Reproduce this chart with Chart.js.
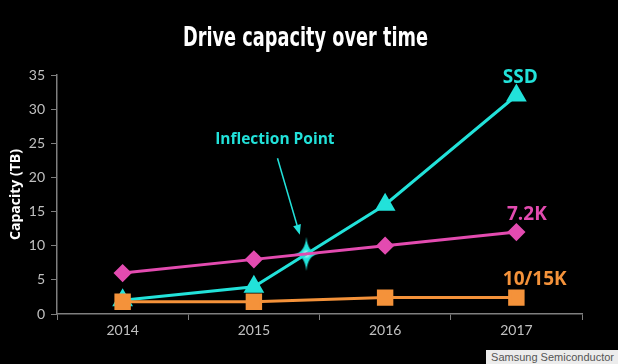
<!DOCTYPE html>
<html lang="en">
<head>
    <meta charset="UTF-8">
    <title>Drive capacity over time</title>
    <script src="https://cdn.jsdelivr.net/npm/chart.js"></script>
    <style>
        html, body { margin: 0; padding: 0; background: #000; }
        #wrap { position: relative; width: 618px; height: 364px; }
        #source {
            position: absolute; right: 0; bottom: 0;
            background: #ececec; color: #555; padding: 1px 4px 1px 5px;
            font: 11px "Liberation Sans", Arial, sans-serif;
        }
    </style>
</head>
<body>
<div id="wrap">
    <canvas id="capChart" width="618" height="364"></canvas>
    <div id="source">Samsung Semiconductor</div>
</div>
<script>
    var title = 'Drive capacity over time';
    var years = ['2014', '2015', '2016', '2017'];
    var ssd = [2, 4, 16, 32];
    var hdd72 = [6, 8, 10, 12];
    var hdd1015 = [1.8, 1.8, 2.4, 2.4];

    // where the SSD line crosses the 7.2K line (between 2015 and 2016)
    var inflection = [{ x: 1.4, y: 8.8 }];

    var cyan = '#22e2da';
    var magenta = '#e34bb0';
    var orange = '#f4923a';

    // text notes, placed in data units (x = category index)
    var notes = [
        { text: 'SSD', x: 3.03, y: 34.6, color: cyan, size: 19 },
        { text: '7.2K', x: 3.08, y: 14.5, color: magenta, size: 19 },
        { text: '10/15K', x: 3.14, y: 5.0, color: orange, size: 19 },
        { text: 'Inflection Point', x: 1.16, y: 25.6, color: cyan, size: 15.5 }
    ];
    var arrow = { from: [1.18, 22.8], to: [1.35, 11.6] };

    function sparkle() {
        var c = document.createElement('canvas');
        c.width = 28; c.height = 34;
        var g = c.getContext('2d');
        var cx = 14, cy = 17;
        g.fillStyle = cyan;
        g.beginPath();
        g.moveTo(cx, 0);
        g.quadraticCurveTo(cx + 1.5, cy - 1.5, 26, cy);
        g.quadraticCurveTo(cx + 1.5, cy + 1.5, cx, 34);
        g.quadraticCurveTo(cx - 1.5, cy + 1.5, 2, cy);
        g.quadraticCurveTo(cx - 1.5, cy - 1.5, cx, 0);
        g.fill();
        var rg = g.createRadialGradient(cx, cy, 0, cx, cy, 5);
        rg.addColorStop(0, 'rgba(255,255,255,1)');
        rg.addColorStop(1, 'rgba(255,255,255,0)');
        g.fillStyle = rg;
        g.fillRect(cx - 5, cy - 5, 10, 10);
        return c;
    }

    // title in a condensed heavy face: squeeze the bold sans to the width it has in the original
    var titlePlugin = {
        id: 'condensedTitle',
        afterDraw: function(chart) {
            var ctx = chart.ctx;
            ctx.save();
            ctx.font = 'bold 26px "DejaVu Sans", sans-serif';
            ctx.fillStyle = '#fff';
            ctx.textBaseline = 'alphabetic';
            ctx.textAlign = 'center';
            var w = ctx.measureText(title).width;
            var sx = 245 / w;
            ctx.translate(305.5, 46);
            ctx.scale(sx, 1);
            ctx.fillText(title, 0, 0);
            ctx.restore();
        }
    };

    var notesPlugin = {
        id: 'notes',
        afterDatasetsDraw: function(chart) {
            var ctx = chart.ctx;
            var xs = chart.scales.x2, ys = chart.scales.y;
            ctx.save();
            ctx.textAlign = 'center';
            ctx.textBaseline = 'middle';
            notes.forEach(function(n) {
                ctx.fillStyle = n.color;
                ctx.font = 'bold ' + n.size + 'px "Open Sans", sans-serif';
                ctx.fillText(n.text, xs.getPixelForValue(n.x), ys.getPixelForValue(n.y));
            });
            var x1 = xs.getPixelForValue(arrow.from[0]), y1 = ys.getPixelForValue(arrow.from[1]);
            var x2 = xs.getPixelForValue(arrow.to[0]), y2 = ys.getPixelForValue(arrow.to[1]);
            var a = Math.atan2(y2 - y1, x2 - x1);
            ctx.strokeStyle = cyan; ctx.fillStyle = cyan; ctx.lineWidth = 1.5;
            ctx.beginPath(); ctx.moveTo(x1, y1); ctx.lineTo(x2 - 6 * Math.cos(a), y2 - 6 * Math.sin(a)); ctx.stroke();
            ctx.beginPath();
            ctx.moveTo(x2, y2);
            ctx.lineTo(x2 - 10 * Math.cos(a) + 4 * Math.sin(a), y2 - 10 * Math.sin(a) - 4 * Math.cos(a));
            ctx.lineTo(x2 - 10 * Math.cos(a) - 4 * Math.sin(a), y2 - 10 * Math.sin(a) + 4 * Math.cos(a));
            ctx.closePath(); ctx.fill();
            ctx.restore();
        }
    };

    var tickFont = { family: 'Lato, sans-serif', size: 14 };

    new Chart(document.getElementById('capChart'), {
        type: 'line',
        data: {
            labels: years,
            datasets: [
                { label: '10/15K', data: hdd1015, borderColor: orange, backgroundColor: orange,
                  borderWidth: 3, pointStyle: 'rect', pointRadius: 9.5, pointHoverRadius: 9.5 },
                { label: '7.2K', data: hdd72, borderColor: magenta, backgroundColor: magenta,
                  borderWidth: 3, pointStyle: 'rectRot', pointRadius: 7, pointHoverRadius: 7 },
                { label: 'SSD', data: ssd, borderColor: cyan, backgroundColor: cyan,
                  borderWidth: 3, pointStyle: 'triangle', pointRadius: 9, pointHoverRadius: 9 },
                { type: 'scatter', label: 'Inflection', data: inflection, xAxisID: 'x2',
                  pointStyle: sparkle(), pointRadius: 17 }
            ]
        },
        options: {
            responsive: false,
            animation: false,
            layout: { padding: { left: 8, right: 36, top: 75, bottom: 0 } },
            plugins: {
                legend: { display: false },
                tooltip: { enabled: false },
                title: { display: false }
            },
            scales: {
                x: {
                    offset: true,
                    grid: { display: true, drawOnChartArea: false, offset: true, tickLength: 6, color: '#7f7f7f', tickColor: '#7f7f7f' },
                    border: { color: '#7f7f7f', width: 1.5 },
                    ticks: { color: '#c0c0c0', font: tickFont, padding: 2 },
                    afterFit: function(s) { s.height = 50; }
                },
                x2: {
                    type: 'linear', display: false, min: -0.5, max: 3.5
                },
                y: {
                    min: 0, max: 35,
                    grid: { display: true, drawOnChartArea: false, tickLength: 6, color: '#7f7f7f', tickColor: '#7f7f7f' },
                    border: { color: '#7f7f7f', width: 1.5 },
                    ticks: { stepSize: 5, color: '#c0c0c0', font: tickFont, padding: 6 },
                    title: { display: true, text: 'Capacity (TB)', color: '#fff',
                             font: { family: '"Open Sans", sans-serif', size: 14, weight: 'bold' }, padding: 0 },
                    afterFit: function(s) { s.width = 49; }
                }
            }
        },
        plugins: [notesPlugin, titlePlugin]
    });
</script>
</body>
</html>
